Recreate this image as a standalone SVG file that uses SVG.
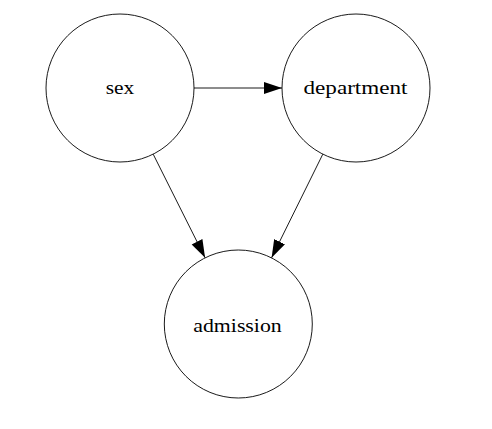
<svg xmlns="http://www.w3.org/2000/svg" width="492" height="429" viewBox="0 0 492 429">
<style>
.node circle{fill:none;stroke:#000;stroke-width:0.9}
.node text{font-family:"Liberation Serif","Times New Roman",serif;font-size:19px;fill:#000;text-anchor:middle}
.edge{stroke:#000;stroke-width:0.9;fill:none;marker-end:url(#arr)}
</style>
<defs>
<marker id="arr" markerUnits="userSpaceOnUse" markerWidth="20" markerHeight="14" refX="18" refY="6" orient="auto">
<polygon points="0,0 18,6 0,12" fill="#000"/>
</marker>
</defs>
<rect width="492" height="429" fill="#fff"/>
<g id="edges">
<path class="edge" d="M194,88 L282,88"/>
<path class="edge" d="M153.2,154.2 L205.1,257.8"/>
<path class="edge" d="M322.8,154.2 L271.6,257.8"/>
</g>
<g id="sex" class="node">
<circle cx="120" cy="88" r="74"/>
<text x="120" y="94" textLength="28.6" lengthAdjust="spacingAndGlyphs">sex</text>
</g>
<g id="department" class="node">
<circle cx="356" cy="88" r="74"/>
<text x="355.5" y="94" textLength="104" lengthAdjust="spacingAndGlyphs">department</text>
</g>
<g id="admission" class="node">
<circle cx="238.3" cy="324" r="74"/>
<text x="237.5" y="331.5" textLength="88.4" lengthAdjust="spacingAndGlyphs">admission</text>
</g>
</svg>
